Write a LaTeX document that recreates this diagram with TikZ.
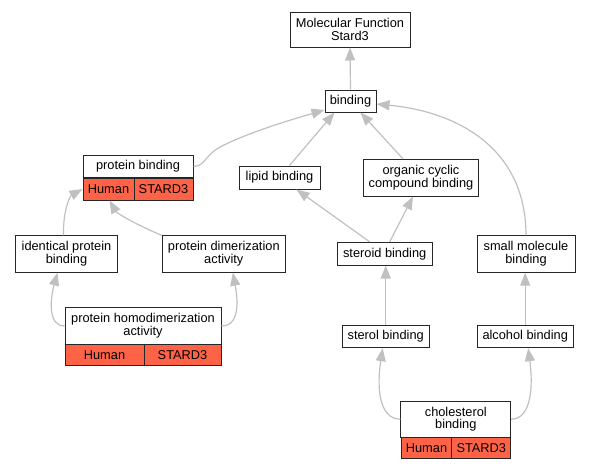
\documentclass[tikz,border=0pt]{standalone}
\usepackage{fontspec}
\setmainfont{Liberation Sans}
\usetikzlibrary{arrows.meta,calc}
\definecolor{edgegray}{HTML}{C0C0C0}
\definecolor{tomatored}{HTML}{FF6347}
\begin{document}
\begin{tikzpicture}[x=1pt,y=-1pt,
  box/.style={draw=black!85, line width=1pt, fill=white, inner sep=0pt, align=center,
    font=\fontsize{12.8}{12.7}\selectfont},
  cell/.style={box, fill=tomatored},
  edge/.style={draw=edgegray, line width=1.2pt, -{Triangle[length=13pt,width=10pt]}}]
\useasboundingbox (0,0) rectangle (589,469);
% nodes
\node[box, minimum width=120pt, minimum height=35pt] (mf) at (350,29.5) {Molecular Function\\Stard3};
\node[box, minimum width=51pt, minimum height=22pt] (bind) at (350.5,101) {binding};
\node[box, minimum width=110pt, minimum height=22.5pt] (pb) at (138,166.5) {protein binding};
\node[cell, minimum width=51pt, minimum height=22pt] (pbh) at (108.5,189) {Human};
\node[cell, minimum width=59pt, minimum height=22pt] (pbs) at (163.5,189) {STARD3};
\node[box, minimum width=81pt, minimum height=23pt] (lipid) at (279.5,177.5) {lipid binding};
\node[box, minimum width=115.4pt, minimum height=36.7pt] (org) at (421,177.7) {organic cyclic\\compound binding};
\node[box, minimum width=101.6pt, minimum height=36.3pt] (ident) at (66.5,254) {identical protein\\binding};
\node[box, minimum width=123pt, minimum height=36.3pt] (dimer) at (223.8,254) {protein dimerization\\activity};
\node[box, minimum width=156pt, minimum height=36.3pt] (homo) at (143,326) {protein homodimerization\\activity};
\node[cell, minimum width=79pt, minimum height=21.3pt] (homoh) at (104.5,354.7) {Human};
\node[cell, minimum width=77pt, minimum height=21.3pt] (homos) at (182.5,354.7) {STARD3};
\node[box, minimum width=95.3pt, minimum height=22.7pt] (steroid) at (384.7,253.7) {steroid binding};
\node[box, minimum width=98pt, minimum height=36.3pt] (small) at (526,254) {small molecule\\binding};
\node[box, minimum width=86.7pt, minimum height=22.4pt] (sterol) at (385.7,336.5) {sterol binding};
\node[box, minimum width=96.3pt, minimum height=22.4pt] (alcohol) at (525.2,336.5) {alcohol binding};
\node[box, minimum width=109.7pt, minimum height=36.3pt] (chol) at (455.8,419.2) {cholesterol\\binding};
\node[cell, minimum width=51pt, minimum height=21.4pt] (cholh) at (426.5,448) {Human};
\node[cell, minimum width=58.7pt, minimum height=21.4pt] (chols) at (481.3,448) {STARD3};
% edges
\draw[edge] (bind.north) -- (mf.south);
\draw[edge] (pb.east) .. controls (206,166) and (204,155) .. (222,146)
  .. controls (250,132) and (290,120) .. ($(bind.west)+(0,9)$);
\draw[edge] ($(lipid.north)+(10,0)$) -- ($(bind.south)+(-16,0)$);
\draw[edge] ($(org.north)+(-18,0)$) -- ($(bind.south)+(10,0)$);
\draw[edge] (small.north) .. controls (526,150) and (460,112) .. ($(bind.east)+(0,3)$);
\draw[edge] ($(ident.north)+(-3,0)$) .. controls (63,210) and (70,196) .. (pbh.west);
\draw[edge] (dimer.north west) .. controls (130,222) and (116,212) .. ($(pbh.south)+(1,0)$);
\draw[edge] (homo.west) .. controls (48,326) and (50,300) .. ($(ident.south)+(-9,0)$);
\draw[edge] (homo.east) .. controls (240,326) and (238,300) .. ($(dimer.south)+(9,0)$);
\draw[edge] ($(steroid.north)+(-15,0)$) -- ($(lipid.south)+(17,0)$);
\draw[edge] ($(steroid.north)+(5,0)$) -- ($(org.south)+(-8,0)$);
\draw[edge] (sterol.north) -- (sterol.north |- steroid.south);
\draw[edge] (alcohol.north) -- (alcohol.north |- small.south);
\draw[edge] (chol.west) .. controls (378,419) and (377,385) .. ($(sterol.south)+(-3,0)$);
\draw[edge] (chol.east) .. controls (532,419) and (533,385) .. ($(alcohol.south)+(3,0)$);
\end{tikzpicture}
\end{document}
